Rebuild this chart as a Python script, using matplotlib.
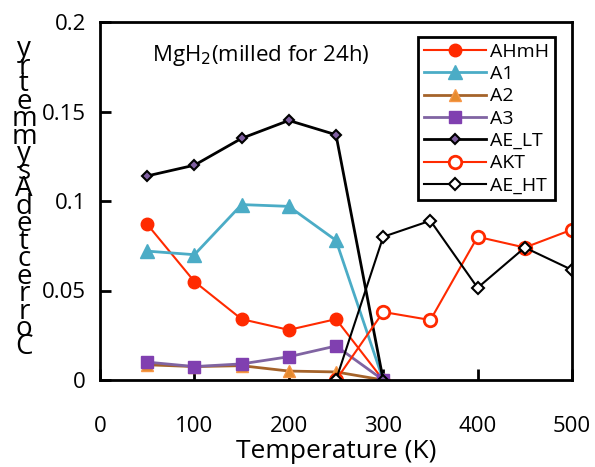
import numpy as np
import matplotlib.pyplot as plt

# data
t_low = [50, 100, 150, 200, 250, 300]
t_high = [250, 300, 350, 400, 450, 500]
ahmh = [0.087, 0.055, 0.034, 0.028, 0.034, 0.0]
a1 = [0.072, 0.070, 0.098, 0.097, 0.078, 0.0]
a2 = [0.0085, 0.0075, 0.008, 0.005, 0.0045, 0.0]
a3 = [0.010, 0.0075, 0.009, 0.013, 0.019, 0.0]
ae_lt = [0.114, 0.120, 0.135, 0.145, 0.137, 0.0]
akt = [0.0, 0.038, 0.0335, 0.080, 0.074, 0.084]
ae_ht = [0.0, 0.080, 0.089, 0.0515, 0.074, 0.0615]

plt.rcParams['font.family'] = ['Open Sans', 'DejaVu Sans']

fig = plt.figure(figsize=(5.95, 4.67), dpi=100)
ax = fig.add_axes([100/595, 1-380/467, 472/595, 358/467])

ax.plot(t_low, ahmh, '-o', color='#ff2a00', ms=9, lw=1.5, label='AHmH')
ax.plot(t_low, a1, '-^', color='#4bacc6', ms=10, lw=2, label='A1')
ax.plot(t_low, a2, '-^', color='#a5632a', mfc='#e58a2e', mec='#f79646', ms=8, lw=2, label='A2')
ax.plot(t_low, a3, '-s', color='#8064a2', mfc='#8040b0', mec='#8040b0', ms=8, lw=2, label='A3')
ax.plot(t_low, ae_lt, '-D', color='black', mfc='#7f5fa0', mec='black', ms=5, mew=1.5, lw=2, label='AE_LT')
ax.plot(t_high, akt, '-o', color='#ff2a00', mfc='white', mec='#ff2a00', ms=9, mew=2, lw=1.5, label='AKT')
ax.plot(t_high, ae_ht, '-D', color='black', mfc='white', mec='black', ms=6, mew=1.5, lw=1.5, label='AE_HT')

ax.set_xlim(0, 500)
ax.set_ylim(0, 0.2)
ax.set_xticks([0, 100, 200, 300, 400, 500])
ax.set_xticklabels(['0', '100', '200', '300', '400', '500'])
ax.set_yticks([0, 0.05, 0.1, 0.15, 0.2])
ax.set_yticklabels(['0', '0.05', '0.1', '0.15', '0.2'])
ax.tick_params(direction='in', length=8, width=2, labelsize=16)
ax.tick_params(axis='x', pad=26)
ax.tick_params(axis='y', pad=10)
for s in ax.spines.values():
    s.set_linewidth(2)

ax.set_xlabel('Temperature (K)', fontsize=19, labelpad=1)

# stacked y label, as in the reference
ylab = 'CorrectedAsymmetry'
fig.text(24/595, 1-198/467, '\n'.join(reversed(ylab)), fontsize=20,
         ha='center', va='center', linespacing=0.5)

ax.text(0.11, 0.89, r'MgH$_2$(milled for 24h)', transform=ax.transAxes, fontsize=16)

leg = ax.legend(loc='upper right', bbox_to_anchor=(0.985, 0.985), fontsize=14,
                handlelength=3.2, labelspacing=0.22, borderpad=0.3,
                handletextpad=0.2, fancybox=False, framealpha=1)
leg.get_frame().set_edgecolor('black')
leg.get_frame().set_linewidth(2)

fig.savefig('out.png', dpi=100)
